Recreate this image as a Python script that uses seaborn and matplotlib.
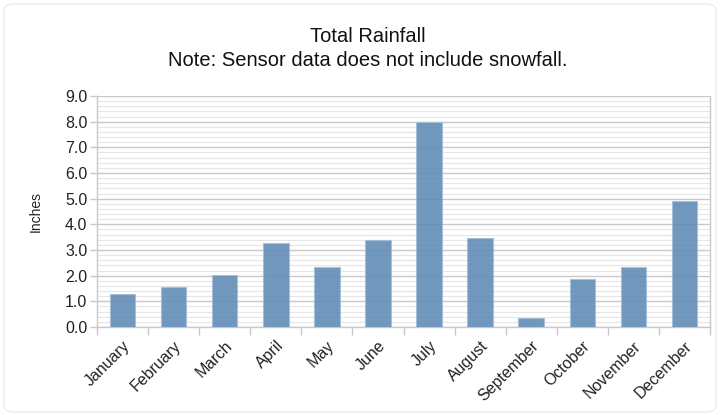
import matplotlib
matplotlib.use("Agg")
import matplotlib.pyplot as plt
import seaborn as sns
import pandas as pd
import numpy as np
from matplotlib.ticker import MultipleLocator, FixedLocator, FormatStrFormatter
from matplotlib.patches import FancyBboxPatch

months = ["January", "February", "March", "April", "May", "June", "July",
          "August", "September", "October", "November", "December"]
rainfall = [1.28, 1.55, 2.02, 3.27, 2.34, 3.40, 8.0, 3.48, 0.34, 1.88, 2.34, 4.92]
title_lines = ["Total Rainfall", "Note: Sensor data does not include snowfall."]
y_label = "Inches"

sns.set_theme(style="white")
plt.rcParams['font.family'] = ['Liberation Sans', 'DejaVu Sans']

df = pd.DataFrame({"month": months, "rain": rainfall})

fig = plt.figure(figsize=(7.22, 4.15), dpi=100)
ax = fig.add_axes([97/722, 1-327/415, (710-97)/722, (327-96)/415])

sns.barplot(data=df, x="month", y="rain", ax=ax, color="#5f8ab6", alpha=0.88,
            width=0.5, edgecolor="#a4bfd9", linewidth=0.8, saturation=1, zorder=3)

ax.set_ylim(0, 9)
ax.set_xlim(-0.5, len(months) - 0.5)
ax.yaxis.set_major_locator(MultipleLocator(1))
ax.yaxis.set_minor_locator(MultipleLocator(0.2))
ax.yaxis.set_major_formatter(FormatStrFormatter("%.1f"))
ax.set_axisbelow(True)
ax.grid(which="major", axis="y", color="#c9c9c9", linewidth=1.0)
ax.grid(which="minor", axis="y", color="#e6e6e6", linewidth=0.8)
ax.grid(which="major", axis="x", visible=False)

ax.xaxis.set_minor_locator(FixedLocator(np.arange(-0.5, len(months), 1.0)))
ax.tick_params(axis="x", which="major", length=0, labelsize=11.5, pad=8)
ax.tick_params(axis="x", which="minor", length=6, color="#c8c8c8", width=1, bottom=True)
ax.tick_params(axis="y", which="major", length=5, color="#c8c8c8", width=1, left=True,
               labelsize=11.5, pad=2, labelcolor="#222222")
ax.tick_params(axis="y", which="minor", length=0)
for lbl in ax.get_xticklabels():
    lbl.set_rotation(45)
    lbl.set_ha("right")
    lbl.set_rotation_mode("anchor")
    lbl.set_color("#222222")

for s in ["left", "right", "bottom", "top"]:
    ax.spines[s].set_color("#c8c8c8")
    ax.spines[s].set_linewidth(1.0)
ax.spines["top"].set_visible(False)

ax.set_xlabel("")
ax.set_ylabel(y_label, fontsize=10, color="#222222", labelpad=16)

fig.text(0.51, 1-37/415, title_lines[0], ha="center", va="center", fontsize=14.5, color="#111111")
fig.text(0.51, 1-60/415, title_lines[1], ha="center", va="center", fontsize=14.5, color="#111111")

border = FancyBboxPatch((4/722, 3/415), 712/722, 408/415,
                        boxstyle="round,pad=0,rounding_size=0.015",
                        transform=fig.transFigure, fill=False,
                        edgecolor="#ececec", linewidth=1.0)
fig.patches.append(border)

fig.savefig("out.png", dpi=100)
